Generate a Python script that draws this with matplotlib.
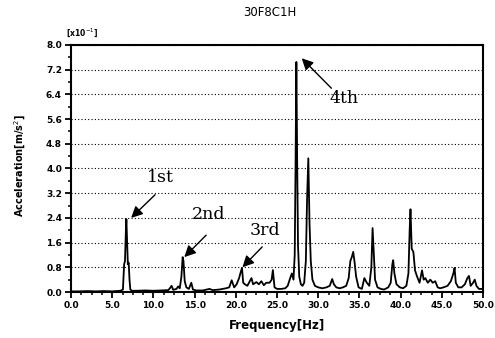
import matplotlib
matplotlib.use("Agg")
import matplotlib.pyplot as plt
from matplotlib.ticker import MultipleLocator

# spectrum of channel 30F8C1H, acceleration in units of 1e-1 m/s^2
freq_hz = [0.0, 1.0, 2.0, 3.0, 4.0, 5.0, 6.0, 6.3, 6.45, 6.55,
           6.65, 6.72, 6.8, 6.9, 7.0, 7.1, 7.2, 7.4, 8.0, 9.0,
           10.0, 11.0, 11.8, 12.0, 12.2, 12.4, 12.8, 13.0, 13.2, 13.4,
           13.55, 13.65, 13.8, 14.0, 14.3, 14.6, 14.8, 15.2, 16.0, 16.8,
           17.2, 18.0, 18.8, 19.2, 19.5, 19.8, 20.1, 20.4, 20.55, 20.75,
           20.9, 21.1, 21.4, 21.7, 21.9, 22.1, 22.5, 22.8, 23.1, 23.4,
           23.7, 24.1, 24.35, 24.5, 24.7, 25.0, 25.5, 26.0, 26.3, 26.6,
           26.8, 27.0, 27.15, 27.25, 27.35, 27.45, 27.55, 27.7, 27.9, 28.1,
           28.3, 28.5, 28.65, 28.8, 28.95, 29.1, 29.3, 29.6, 30.0, 30.5,
           31.0, 31.4, 31.7, 31.9, 32.2, 32.6, 33.0, 33.4, 33.7, 33.9,
           34.1, 34.25, 34.4, 34.6, 34.9, 35.3, 35.6, 35.9, 36.2, 36.45,
           36.6, 36.75, 36.9, 37.2, 37.6, 38.0, 38.5, 38.8, 39.0, 39.1,
           39.25, 39.5, 39.9, 40.3, 40.7, 40.95, 41.1, 41.2, 41.35, 41.55,
           41.75, 42.0, 42.3, 42.6, 42.8, 43.0, 43.3, 43.6, 43.9, 44.2,
           44.5, 44.8, 45.2, 45.7, 46.1, 46.4, 46.55, 46.7, 47.0, 47.4,
           47.8, 48.1, 48.3, 48.5, 48.8, 49.0, 49.2, 49.5, 50.0]
accel = [0.02, 0.02, 0.03, 0.02, 0.03, 0.02, 0.04, 0.08, 0.9, 1.0,
         1.9, 2.36, 1.7, 0.9, 0.95, 0.4, 0.08, 0.04, 0.04, 0.05,
         0.04, 0.05, 0.06, 0.12, 0.2, 0.07, 0.1, 0.18, 0.12, 0.5,
         1.13, 1.0, 0.35, 0.15, 0.1, 0.3, 0.08, 0.05, 0.05, 0.1,
         0.06, 0.08, 0.12, 0.15, 0.38, 0.15, 0.25, 0.45, 0.6, 0.78,
         0.3, 0.25, 0.2, 0.35, 0.45, 0.25, 0.32, 0.25, 0.35, 0.22,
         0.3, 0.3, 0.4, 0.71, 0.15, 0.1, 0.1, 0.12, 0.2, 0.45,
         0.6, 0.4, 1.2, 4.0, 7.45, 4.2, 1.5, 0.5, 0.25, 0.2,
         0.3, 1.0, 3.0, 4.33, 2.2, 1.0, 0.4, 0.2, 0.15, 0.12,
         0.15, 0.2, 0.42, 0.25, 0.15, 0.12, 0.15, 0.2, 0.45, 1.0,
         1.15, 1.3, 1.0, 0.5, 0.15, 0.1, 0.45, 0.3, 0.2, 0.8,
         2.07, 1.2, 0.4, 0.15, 0.1, 0.08, 0.15, 0.3, 0.9, 1.03,
         0.6, 0.25, 0.15, 0.12, 0.2, 0.6, 2.0, 2.68, 1.4, 1.3,
         0.7, 0.5, 0.3, 0.7, 0.4, 0.45, 0.3, 0.4, 0.3, 0.35,
         0.15, 0.12, 0.15, 0.2, 0.35, 0.6, 0.78, 0.3, 0.15, 0.15,
         0.25, 0.45, 0.52, 0.2, 0.3, 0.4, 0.2, 0.1, 0.1]

# mode labels: text, peak (f, a), text position (f, a)
mode_names = ["1st", "2nd", "3rd", "4th"]
mode_tips = [(7.3, 2.4), (13.75, 1.13), (20.8, 0.8), (28.0, 7.57)]
mode_text = [(10.9, 3.72), (16.7, 2.5), (23.5, 2.0), (33.1, 6.28)]
mode_tails = [(10.2, 3.15), (16.4, 1.84), (23.2, 1.46), (31.6, 6.6)]

fig = plt.figure(figsize=(4.95, 3.38), dpi=100)
ax = fig.add_axes([71 / 495, 1 - 292 / 338, 412 / 495, 247 / 338])

ax.plot(freq_hz, accel, color="black", linewidth=1.3)

ax.set_xlim(0, 50)
ax.set_ylim(0, 8)
ax.xaxis.set_major_locator(MultipleLocator(5))
ax.xaxis.set_minor_locator(MultipleLocator(1.25))
ax.yaxis.set_major_locator(MultipleLocator(0.8))
ax.yaxis.set_minor_locator(MultipleLocator(0.4))
ax.tick_params(which="major", direction="out", length=4.5, width=1.3,
               labelsize=6.5, pad=2)
ax.tick_params(which="minor", direction="out", length=2.5, width=1.1)
for lab in ax.get_xticklabels() + ax.get_yticklabels():
    lab.set_fontweight("bold")
ax.xaxis.set_major_formatter(plt.FuncFormatter(lambda v, p: "%.1f" % v))
ax.yaxis.set_major_formatter(plt.FuncFormatter(lambda v, p: "%.1f" % v))

for s in ax.spines.values():
    s.set_linewidth(1.5)

ax.grid(axis="y", which="major", color="black", linestyle=(0, (1, 2)),
        linewidth=0.8)

for name, tip, txt, tail in zip(mode_names, mode_tips, mode_text, mode_tails):
    ax.annotate("", xy=tip, xytext=tail,
                arrowprops=dict(arrowstyle="-|>", color="black", lw=1.0,
                                mutation_scale=17, shrinkA=0, shrinkB=0))
    ax.text(txt[0], txt[1], name, fontsize=12.5, family="DejaVu Serif",
            ha="center", va="center")

fig.text(270 / 495, 1 - 12 / 338, "30F8C1H", ha="center", va="center",
         fontsize=8.5)
fig.text(82 / 495, 1 - 33 / 338, "[x10$^{-1}$]", ha="center", va="center",
         fontsize=5.5, fontweight="bold")
fig.text(20 / 495, 1 - 165 / 338, "Acceleration[m/s$^2$]", rotation=90,
         ha="center", va="center", fontsize=7, fontweight="bold")
fig.text(277 / 495, 1 - 326 / 338, "Frequency[Hz]", ha="center",
         va="center", fontsize=8.5, fontweight="bold")

fig.savefig("out.png", dpi=100)
